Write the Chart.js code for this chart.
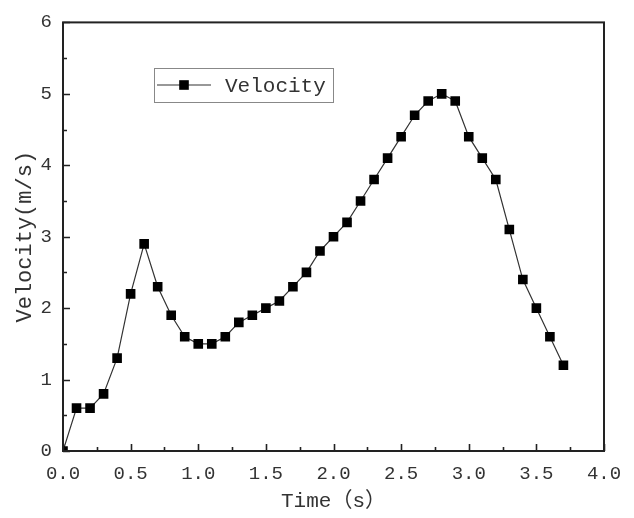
<!DOCTYPE html>
<html>
<head>
<meta charset="utf-8">
<script src="https://cdn.jsdelivr.net/npm/chart.js@4.4.1/dist/chart.umd.min.js"></script>
<style>
  html, body { margin: 0; padding: 0; background: #fff; }
  canvas { display: block; }
</style>
</head>
<body>
<canvas id="velocityChart" width="634" height="518"></canvas>
<script>
// time (s) and measured velocity (m/s)
const times = [0.0, 0.1, 0.2, 0.3, 0.4, 0.5, 0.6, 0.7, 0.8, 0.9,
               1.0, 1.1, 1.2, 1.3, 1.4, 1.5, 1.6, 1.7, 1.8, 1.9,
               2.0, 2.1, 2.2, 2.3, 2.4, 2.5, 2.6, 2.7, 2.8, 2.9,
               3.0, 3.1, 3.2, 3.3, 3.4, 3.5, 3.6, 3.7];
const velocity = [0.0, 0.6, 0.6, 0.8, 1.3, 2.2, 2.9, 2.3, 1.9, 1.6,
                  1.5, 1.5, 1.6, 1.8, 1.9, 2.0, 2.1, 2.3, 2.5, 2.8,
                  3.0, 3.2, 3.5, 3.8, 4.1, 4.4, 4.7, 4.9, 5.0, 4.9,
                  4.4, 4.1, 3.8, 3.1, 2.4, 2.0, 1.6, 1.2];
const xTicks = [0, 0.5, 1.0, 1.5, 2.0, 2.5, 3.0, 3.5, 4.0];
const yTicks = [0, 1, 2, 3, 4, 5, 6];

const FONT = "'Liberation Mono', 'Noto Sans CJK SC', monospace";
const TEXT_COLOR = "#333";

// frame box + inward tick marks (major and minor)
const frameTicks = {
    id: "frameTicks",
    afterDatasetsDraw(chart) {
        const { ctx, chartArea: a, scales } = chart;
        const x = scales.x, y = scales.y;
        ctx.save();
        ctx.strokeStyle = "#222";
        ctx.lineWidth = 2;
        ctx.strokeRect(a.left, a.top, a.right - a.left, a.bottom - a.top);

        ctx.lineWidth = 1.6;
        ctx.beginPath();
        for (let v = 0; v <= 4.001; v += 0.25) {
            const px = Math.round(x.getPixelForValue(v)) + 0.5;
            const len = Math.abs(v / 0.5 - Math.round(v / 0.5)) < 1e-6 ? 7 : 4;
            ctx.moveTo(px, a.bottom);
            ctx.lineTo(px, a.bottom - len);
        }
        for (let v = 0; v <= 6.001; v += 0.5) {
            const py = Math.round(y.getPixelForValue(v)) + 0.5;
            const len = Math.abs(v - Math.round(v)) < 1e-6 ? 7 : 4;
            ctx.moveTo(a.left, py);
            ctx.lineTo(a.left + len, py);
        }
        ctx.stroke();
        ctx.restore();
    }
};

// boxed legend inside the plot, upper left
const boxLegend = {
    id: "boxLegend",
    afterDraw(chart) {
        const { ctx } = chart;
        const ds = chart.data.datasets[0];
        const left = 154, top = 68, w = 179, h = 34;
        const cy = top + h / 2;
        ctx.save();
        ctx.fillStyle = "#fff";
        ctx.fillRect(left, top, w, h);
        ctx.strokeStyle = "#888";
        ctx.lineWidth = 1;
        ctx.strokeRect(left + 0.5, top + 0.5, w, h);

        ctx.strokeStyle = ds.borderColor;
        ctx.lineWidth = ds.borderWidth;
        ctx.beginPath();
        ctx.moveTo(157, cy);
        ctx.lineTo(211, cy);
        ctx.stroke();
        ctx.fillStyle = ds.pointBackgroundColor;
        const s = ds.pointRadius * Math.SQRT1_2;
        ctx.fillRect(184 - s, cy - s, 2 * s, 2 * s);

        ctx.fillStyle = TEXT_COLOR;
        ctx.font = "21px " + FONT;
        ctx.textBaseline = "middle";
        ctx.textAlign = "left";
        ctx.fillText(ds.label, 225, cy + 1);
        ctx.restore();
    }
};

const ctx = document.getElementById("velocityChart").getContext("2d");
new Chart(ctx, {
    type: "line",
    data: {
        datasets: [{
            label: "Velocity",
            data: times.map((t, i) => ({ x: t, y: velocity[i] })),
            borderColor: "#333",
            borderWidth: 1.2,
            pointStyle: "rect",
            pointRadius: 6.8,
            pointBackgroundColor: "#000",
            pointBorderWidth: 0,
            tension: 0
        }]
    },
    options: {
        responsive: false,
        animation: false,
        layout: { padding: { left: 0, top: 15, right: 30, bottom: 0 } },
        plugins: {
            legend: { display: false },
            tooltip: { enabled: false }
        },
        scales: {
            x: {
                type: "linear",
                min: 0,
                max: 4,
                afterBuildTicks: s => { s.ticks = xTicks.map(v => ({ value: v })); },
                afterFit: s => { s.height = 67; },
                grid: { display: false, drawTicks: false },
                border: { display: false },
                ticks: {
                    padding: 12,
                    color: TEXT_COLOR,
                    font: { family: FONT, size: 19 },
                    callback: v => Number(v).toFixed(1)
                },
                title: {
                    display: true,
                    text: "Time（s）",
                    color: TEXT_COLOR,
                    font: { family: FONT, size: 21 },
                    padding: { top: 0, bottom: 4 }
                }
            },
            y: {
                min: 0,
                max: 6,
                afterBuildTicks: s => { s.ticks = yTicks.map(v => ({ value: v })); },
                afterFit: s => { s.width = 63; },
                grid: { display: false, drawTicks: false },
                border: { display: false },
                ticks: {
                    padding: 11,
                    color: TEXT_COLOR,
                    font: { family: FONT, size: 19 },
                    callback: v => String(v)
                },
                title: {
                    display: true,
                    text: "Velocity(m/s)",
                    color: TEXT_COLOR,
                    font: { family: FONT, size: 22 },
                    padding: { top: 12, bottom: 0 }
                }
            }
        }
    },
    plugins: [frameTicks, boxLegend]
});
</script>
</body>
</html>
